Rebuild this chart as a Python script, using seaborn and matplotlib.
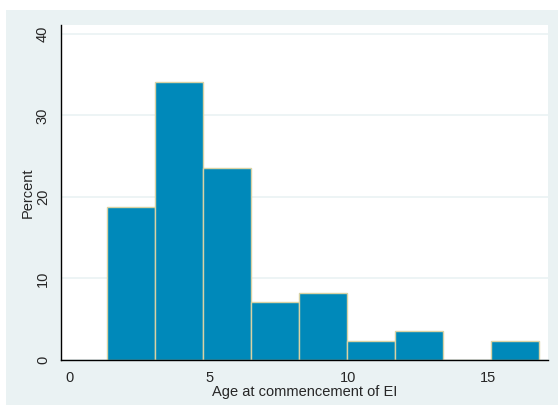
import numpy as np
import pandas as pd
import seaborn as sns
import matplotlib.pyplot as plt
from matplotlib.patches import Rectangle


# Histogram data (percent per bin)
bin_edges = [1.32, 3.05, 4.77, 6.50, 8.22, 9.95, 11.68, 13.40, 15.13, 16.85]
percents = [18.82, 34.12, 23.53, 7.06, 8.24, 2.35, 3.53, 0.0, 2.35]
x_ticks = [0, 5, 10, 15]
y_ticks = [0, 10, 20, 30, 40]

edges = np.array(bin_edges)
df = pd.DataFrame({"age": (edges[:-1] + edges[1:]) / 2, "pct": percents})

# Style
sns.set_style("white")
plt.rcParams["font.family"] = ["Liberation Sans", "DejaVu Sans"]
BG = "#EAF2F3"

fig = plt.figure(figsize=(5.58, 4.07), dpi=100)
fig.patch.set_facecolor("white")
fig.patches.append(Rectangle((6 / 558, 2 / 407), 1 - 6 / 558, 1 - 12 / 407,
                             transform=fig.transFigure, facecolor=BG,
                             edgecolor="none", zorder=-10))
ax = fig.add_axes([61 / 558, 1 - 360 / 407, 487 / 558, 335 / 407])
ax.set_facecolor("white")

sns.histplot(data=df, x="age", weights="pct", bins=bin_edges, stat="count",
             color="#0089BA", edgecolor="#D8D2A4", linewidth=1.0, alpha=1,
             ax=ax)

ax.set_xlim(-0.323, 17.16)
ax.set_ylim(0, 41.1)
ax.set_xticks(x_ticks)
ax.set_yticks(y_ticks)
ax.yaxis.grid(True, color=BG, linewidth=1.2)
ax.set_axisbelow(True)
for side in ("top", "right"):
    ax.spines[side].set_visible(False)
for side in ("left", "bottom"):
    ax.spines[side].set_color("black")
    ax.spines[side].set_linewidth(1.0)
ax.tick_params(axis="both", direction="out", length=5, width=0.8,
               color="#333333", labelsize=10.5, pad=3)
for lab in ax.get_yticklabels():
    lab.set_rotation(90)
    lab.set_va("center")
ax.set_xlabel("Age at commencement of EI", fontsize=10.5, labelpad=0)
ax.set_ylabel("Percent", fontsize=10.5, labelpad=1)

fig.savefig("out.png", dpi=100)
